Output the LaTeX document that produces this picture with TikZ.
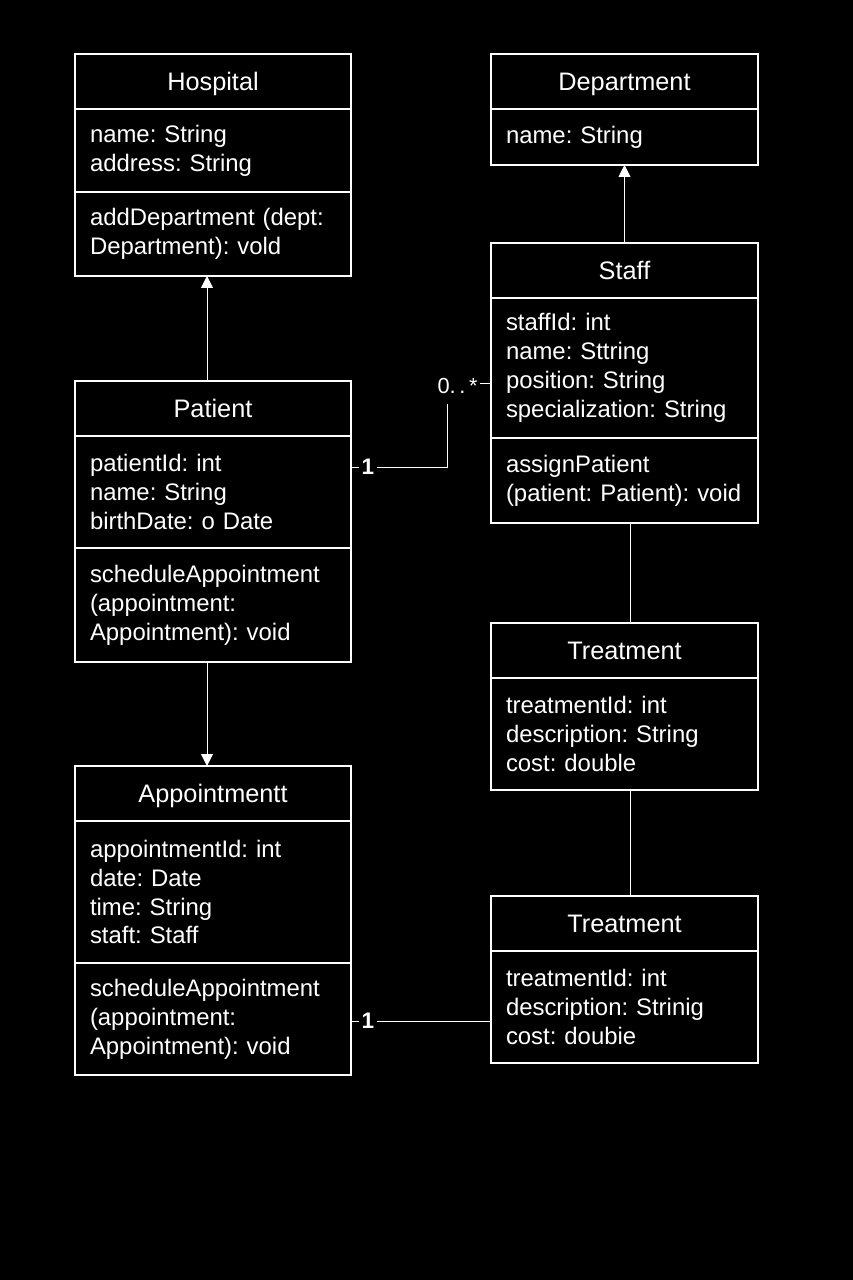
\documentclass[tikz,border=0pt]{standalone}
\usepackage{fontspec}
\setmainfont{Liberation Sans}
\usetikzlibrary{arrows.meta,positioning}
\frenchspacing

\begin{document}
\begin{tikzpicture}[>={Triangle[width=8.5pt,length=8.5pt]},
                    every node/.style={text=white,font=\fontsize{17}{20.6}\selectfont},
                    box/.style={draw=white,line width=1pt,outer sep=0pt,
                                inner xsep=0.375cm,inner ysep=0pt,anchor=north},
                    lcol/.style={box,text width=6.15cm},
                    rcol/.style={box,text width=5.925cm},
                    head/.style={align=center,minimum height=1.375cm,text depth=0pt,
                                 font=\fontsize{18}{21}\selectfont},
                    body/.style={align=left},
                    link/.style={draw=white,line width=0.7pt},
                    mult/.style={fill=black,inner sep=2pt,
                                 font=\fontsize{16}{16}\selectfont\bfseries}]
  \fill[black] (0,0) rectangle (21.325,-32);
%  left column

  \node[lcol,head]   (hosp)  at (5.325,-1.35)          {Hospital};
  \node[lcol,body,minimum height=2.075cm] (hospA) [below=0pt of hosp]  {name: String\\address: String};
  \node[lcol,body,minimum height=2.1cm]   (hospM) [below=0pt of hospA] {addDepartment (dept:\\Department): vold};

  \node[lcol,head]   (pat)   at (5.325,-9.525)         {Patient};
  \node[lcol,body,minimum height=2.8cm]   (patA)  [below=0pt of pat]   {patientId: int\\name: String\\birthDate: o Date};
  \node[lcol,body,minimum height=2.85cm]  (patM)  [below=0pt of patA]  {scheduleAppointment\\(appointment:\\Appointment): void};

  \node[lcol,head]   (app)   at (5.325,-19.15)         {Appointmentt};
  \node[lcol,body,minimum height=3.55cm]  (appA)  [below=0pt of app]   {appointmentId: int\\date: Date\\time: String\\staft: Staff};
  \node[lcol,body,minimum height=2.8cm]   (appM)  [below=0pt of appA]  {scheduleAppointment\\(appointment:\\Appointment): void};

%  right column
  \node[rcol,head]   (dep)   at (15.6125,-1.35)        {Department};
  \node[rcol,body,minimum height=1.4cm]   (depA)  [below=0pt of dep]   {name: String};

  \node[rcol,head]   (staff) at (15.6125,-6.075)       {Staff};
  \node[rcol,body,minimum height=3.5cm]   (staffA) [below=0pt of staff]  {staffId: int\\name: Sttring\\position: String\\specialization: String};
  \node[rcol,body,minimum height=2.125cm] (staffM) [below=0pt of staffA] {assignPatient\\(patient: Patient): void};

  \node[rcol,head]   (treat) at (15.6125,-15.575)      {Treatment};
  \node[rcol,body,minimum height=2.8cm]   (treatA) [below=0pt of treat] {treatmentId: int\\description: String\\cost: double};

  \node[rcol,head]   (treatB) at (15.6125,-22.4)       {Treatment};
  \node[rcol,body,minimum height=2.8cm]   (treatBA) [below=0pt of treatB] {treatmentId: int\\description: Strinig\\cost: doubie};

  \coordinate (k1) at (11.175,-9.575);
  \coordinate (y1) at (0,-11.675);
  \coordinate (y2) at (0,-25.525);

  \draw[link,->] ([xshift=-0.15cm]pat.north)   -- ([xshift=-0.15cm]hospM.south);
  \draw[link,->] (staff.north)                 -- (depA.south);
  \draw[link,->] ([xshift=-0.15cm]patM.south)  -- ([xshift=-0.15cm]app.north);
  \draw[link]    ([xshift=0.16cm]staffM.south) -- ([xshift=0.16cm]treat.north);
  \draw[link]    ([xshift=0.16cm]treatA.south) -- ([xshift=0.16cm]treatB.north);
  \draw[link]    (patA.east |- y1) -| (k1) -- (staffA.west |- k1);
  \draw[link]    (appM.east |- y2) -- (treatBA.west |- y2);

  \node[mult] (m1) at (9.2,-11.675) {1};
  \node[mult,font=\fontsize{15.5}{16}\selectfont,minimum height=0.9cm] (m2) at (11.44,-9.65) {0.\,.\,*};
  \node[mult] (m3) at (9.2,-25.525) {1};
\end{tikzpicture}
\end{document}
